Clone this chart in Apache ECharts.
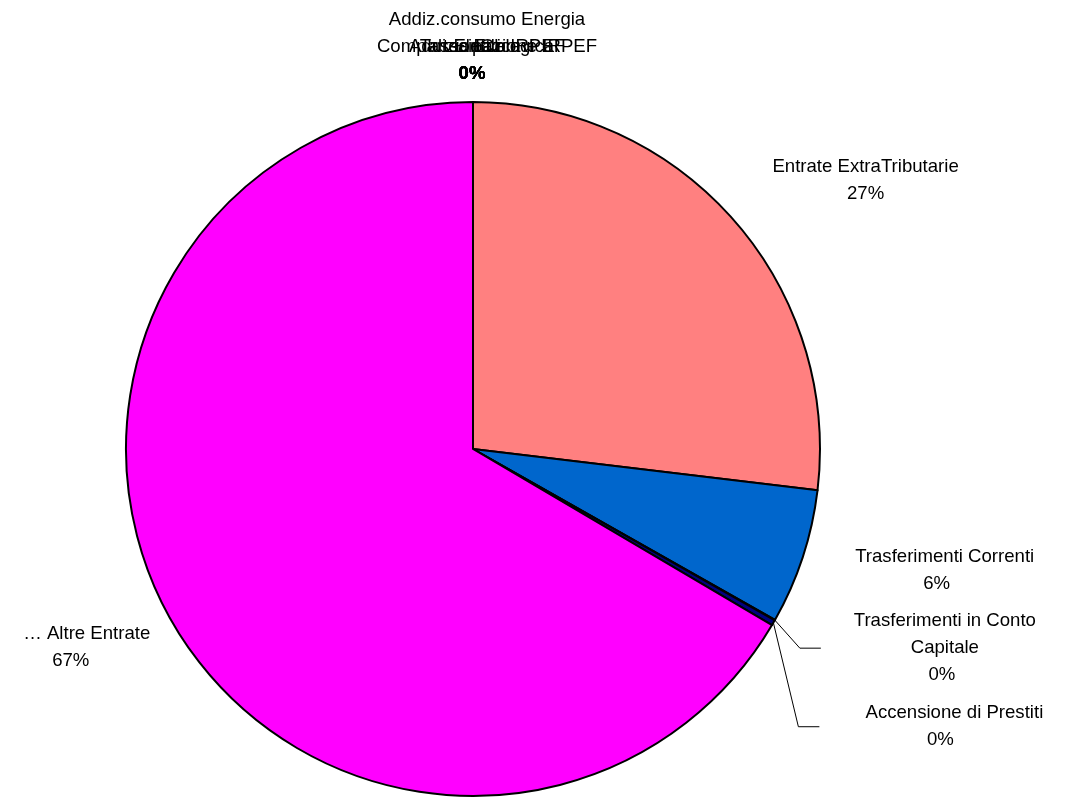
<!DOCTYPE html>
<html>
<head>
<meta charset="utf-8">
<script src="https://cdn.jsdelivr.net/npm/echarts@6/dist/echarts.min.js"></script>
<style>
html,body{margin:0;padding:0;background:#fff;}
#chart{width:1072px;height:798px;}
</style>
</head>
<body>
<div id="chart"></div>
<script>
// ---- data ----
const categories = [
  'Addiz.consumo Energia Elettrica',
  'Compartecipazione IRPEF',
  'Addizionale IRPEF',
  'ICI',
  'Tassa Ecologica',
  'Entrate ExtraTributarie',
  'Trasferimenti Correnti',
  'Trasferimenti in Conto Capitale',
  'Accensione di Prestiti',
  '\u2026 Altre Entrate'
];
const values = [0, 0, 0, 0, 0, 26.9, 6.3, 0.02, 0.25, 66.53];

// ---- styles ----
const colors = ['#9999FF', '#993366', '#FFFFCC', '#CCFFFF', '#660066',
                '#FF8080', '#0066CC', '#CCCCFF', '#000080', '#FF00FF'];
// label placement relative to the slice's outer anchor point
const topLbl = { dx: 14, dy: -15, va: 'bottom', pctShift: 15, bold: true };
const labelPlacement = [
  { dx: 14, dy: -15, va: 'bottom', pctShift: 15, wrap: 2, bold: true },
  topLbl, topLbl, topLbl, topLbl,
  { dx: 133, dy: -38, pctShift: 0 },
  { dx: 142, dy: 13, pctShift: 8 },
  { dx: 170, dy: 28, line: [25, 46], wrap: 3, pctShift: 3 },
  { dx: 181, dy: 104, line: [25, 46], pctShift: 14 },
  { dx: -85, dy: 26, pctShift: 16 }
];

const FONT = '"Liberation Sans", Arial, sans-serif';
const FS = 18.6;
const LH = 27;

const chart = echarts.init(document.getElementById('chart'), null, { renderer: 'canvas' });

const seriesData = categories.map((name, i) => {
  const cfg = labelPlacement[i];
  return {
    name: name,
    value: values[i],
    itemStyle: { color: colors[i] },
    label: {
      rich: {
        p: {
          fontFamily: FONT, fontSize: FS, lineHeight: LH, color: '#000000',
          fontWeight: cfg.bold ? 'bold' : 'normal',
          padding: [0, 2 * (cfg.pctShift || 0), 0, 0]
        }
      }
    }
  };
});

chart.setOption({
  animation: false,
  backgroundColor: '#ffffff',
  series: [{
    type: 'pie',
    center: [473, 449],
    radius: 347,
    startAngle: 90,
    clockwise: true,
    avoidLabelOverlap: false,
    percentPrecision: 0,
    emphasis: { disabled: true },
    itemStyle: { borderColor: '#000000', borderWidth: 2 },
    label: {
      show: true,
      position: 'outside',
      formatter: function (p) {
        const cfg = labelPlacement[p.dataIndex] || {};
        let name = p.name;
        if (cfg.wrap) {
          const w = name.split(' ');
          name = w.slice(0, cfg.wrap).join(' ') + '\n' + w.slice(cfg.wrap).join(' ');
        }
        return name + '\n{p|' + p.percent + '%}';
      },
      fontFamily: FONT,
      fontSize: FS,
      lineHeight: LH,
      color: '#000000'
    },
    labelLine: {
      show: true,
      length: 10,
      length2: 10,
      smooth: false,
      lineStyle: { color: '#000000', width: 1 }
    },
    labelLayout: function (p) {
      const cfg = labelPlacement[p.dataIndex];
      const pts = p.labelLinePoints;
      if (!cfg || !pts || !pts[0]) return {};
      const a = pts[0];
      const x = a[0] + cfg.dx;
      const y = a[1] + cfg.dy;
      let line = [[a[0], a[1]], [a[0], a[1]], [a[0], a[1]]];
      if (cfg.line) {
        line = [[a[0], a[1]], [a[0] + cfg.line[0], y], [a[0] + cfg.line[1], y]];
      }
      return {
        x: x,
        y: y,
        align: 'center',
        verticalAlign: cfg.va || 'middle',
        labelLinePoints: line
      };
    },
    data: seriesData
  }]
});
</script>
</body>
</html>
